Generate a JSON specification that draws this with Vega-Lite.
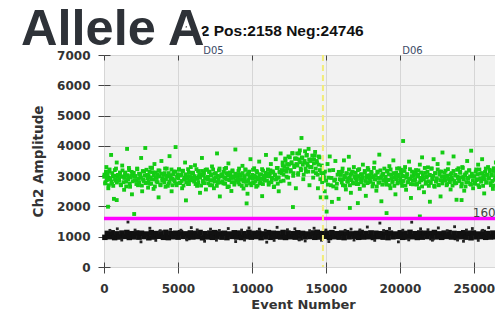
{
"$schema":"https://vega.github.io/schema/vega-lite/v6.json",
"width":398,"height":212,
"autosize":"none",
"padding":{"left":104,"top":55,"right":0,"bottom":54},
"background":"#ffffff",
"config":{
 "font":"DejaVu Sans",
 "axis":{"labelFont":"DejaVu Sans","labelFontWeight":"bold","labelFontSize":12,"labelColor":"#333333","titleFont":"DejaVu Sans","titleFontWeight":"bold","titleFontSize":13,"titleColor":"#333333","gridColor":"#d6d6d6","gridWidth":1,"tickColor":"#444444","tickWidth":1,"domain":false},
 "view":{"fill":"#f2f2f2","stroke":"#444444","strokeWidth":1}
},
"datasets":{
"neg":[
{"x":60,"y":980},{"x":225,"y":1110},{"x":390,"y":1000},{"x":555,"y":1130},{"x":720,"y":970},{"x":885,"y":1095},{"x":1050,"y":990},{"x":1215,"y":1120},{"x":1380,"y":1010},{"x":1545,"y":1140},{"x":1710,"y":975},{"x":1875,"y":1100},{"x":2040,"y":995},{"x":2205,"y":1125},{"x":2370,"y":985},{"x":2535,"y":1115},{"x":2700,"y":1005},{"x":2865,"y":1090},{"x":3030,"y":965},{"x":3195,"y":1135},{"x":3360,"y":990},{"x":3525,"y":1105},{"x":3690,"y":1015},{"x":3855,"y":1120},{"x":4020,"y":980},{"x":4185,"y":1145},{"x":4350,"y":970},{"x":4515,"y":1100},{"x":4680,"y":1000},{"x":4845,"y":1115},{"x":5010,"y":985},{"x":5175,"y":1130},{"x":5340,"y":1010},{"x":5505,"y":1095},{"x":5670,"y":975},{"x":5835,"y":1125},{"x":6000,"y":990},{"x":6165,"y":1110},{"x":6330,"y":1005},{"x":6495,"y":1140},{"x":6660,"y":965},{"x":6825,"y":1100},{"x":6990,"y":995},{"x":7155,"y":1120},{"x":7320,"y":980},{"x":7485,"y":1135},{"x":7650,"y":1000},{"x":7815,"y":1105},{"x":7980,"y":985},{"x":8145,"y":1115},{"x":8310,"y":970},{"x":8475,"y":1090},{"x":8640,"y":1010},{"x":8805,"y":1130},{"x":8970,"y":990},{"x":9135,"y":1120},{"x":9300,"y":975},{"x":9465,"y":1100},{"x":9630,"y":1000},{"x":9795,"y":1145},{"x":9960,"y":985},{"x":10125,"y":1110},{"x":10290,"y":1005},{"x":10455,"y":1125},{"x":10620,"y":970},{"x":10785,"y":1095},{"x":10950,"y":995},{"x":11115,"y":1135},{"x":11280,"y":980},{"x":11445,"y":1115},{"x":11610,"y":1010},{"x":11775,"y":1105},{"x":11940,"y":990},{"x":12105,"y":1140},{"x":12270,"y":975},{"x":12435,"y":1120},{"x":12600,"y":1000},{"x":12765,"y":1100},{"x":12930,"y":985},{"x":13095,"y":1130},{"x":13260,"y":965},{"x":13425,"y":1110},{"x":13590,"y":995},{"x":13755,"y":1090},{"x":13920,"y":1005},{"x":14085,"y":1125},{"x":14250,"y":980},{"x":14415,"y":1145},{"x":14580,"y":990},{"x":14745,"y":1105},{"x":14910,"y":1015},{"x":15075,"y":1115},{"x":15240,"y":975},{"x":15405,"y":1135},{"x":15570,"y":1000},{"x":15735,"y":1100},{"x":15900,"y":985},{"x":16065,"y":1120},{"x":16230,"y":970},{"x":16395,"y":1130},{"x":16560,"y":995},{"x":16725,"y":1095},{"x":16890,"y":1010},{"x":17055,"y":1110},{"x":17220,"y":980},{"x":17385,"y":1140},{"x":17550,"y":990},{"x":17715,"y":1105},{"x":17880,"y":1000},{"x":18045,"y":1125},{"x":18210,"y":975},{"x":18375,"y":1115},{"x":18540,"y":1005},{"x":18705,"y":1100},{"x":18870,"y":985},{"x":19035,"y":1135},{"x":19200,"y":970},{"x":19365,"y":1120},{"x":19530,"y":995},{"x":19695,"y":1090},{"x":19860,"y":1010},{"x":20025,"y":1130},{"x":20190,"y":980},{"x":20355,"y":1110},{"x":20520,"y":990},{"x":20685,"y":1145},{"x":20850,"y":1000},{"x":21015,"y":1100},{"x":21180,"y":975},{"x":21345,"y":1125},{"x":21510,"y":985},{"x":21675,"y":1115},{"x":21840,"y":1005},{"x":22005,"y":1105},{"x":22170,"y":970},{"x":22335,"y":1140},{"x":22500,"y":995},{"x":22665,"y":1095},{"x":22830,"y":980},{"x":22995,"y":1120},{"x":23160,"y":1010},{"x":23325,"y":1135},{"x":23490,"y":990},{"x":23655,"y":1110},{"x":23820,"y":975},{"x":23985,"y":1100},{"x":24150,"y":1000},{"x":24315,"y":1130},{"x":24480,"y":985},{"x":24645,"y":1115},{"x":24810,"y":965},{"x":24975,"y":1125},{"x":25140,"y":995},{"x":25305,"y":1090},{"x":25470,"y":1005},{"x":25635,"y":1140},{"x":25800,"y":980},{"x":25965,"y":1105},{"x":26130,"y":990},{"x":26295,"y":1120},{"x":26460,"y":1000},{"x":26625,"y":1130},{"x":26790,"y":975},{"x":26880,"y":1110}
],
"negOut":[
{"x":1620,"y":1485},{"x":18650,"y":1450},{"x":20800,"y":1480},{"x":900,"y":1260},{"x":3100,"y":1280},{"x":4500,"y":1240},{"x":5900,"y":1300},{"x":7200,"y":1250},{"x":8400,"y":1270},{"x":9800,"y":1290},{"x":10500,"y":1250},{"x":11700,"y":1310},{"x":12900,"y":1260},{"x":14200,"y":1280},{"x":15600,"y":1300},{"x":16700,"y":1250},{"x":17800,"y":1320},{"x":19300,"y":1270},{"x":21400,"y":1260},{"x":22600,"y":1290},{"x":23700,"y":1330},{"x":24900,"y":1270},{"x":26000,"y":1300},{"x":2500,"y":830},{"x":6800,"y":850},{"x":11000,"y":820},{"x":15200,"y":840},{"x":19900,"y":830},{"x":24300,"y":850},{"x":13600,"y":860},{"x":8900,"y":840},
{"x":400,"y":1210},{"x":2100,"y":1220},{"x":3800,"y":1200},{"x":5200,"y":1215},{"x":6300,"y":1225},{"x":7800,"y":1205},{"x":9300,"y":1220},{"x":10900,"y":1210},{"x":12400,"y":1230},{"x":13900,"y":1200},{"x":15000,"y":1220},{"x":16300,"y":1210},{"x":17300,"y":1225},{"x":18900,"y":1205},{"x":20200,"y":1215},{"x":21900,"y":1230},{"x":23200,"y":1200},{"x":24500,"y":1220},{"x":25600,"y":1210},{"x":26600,"y":1225},
{"x":1200,"y":890},{"x":3500,"y":880},{"x":5600,"y":895},{"x":7600,"y":885},{"x":9500,"y":890},{"x":11500,"y":880},{"x":13200,"y":895},{"x":14700,"y":885},{"x":16900,"y":890},{"x":18300,"y":880},{"x":20600,"y":895},{"x":22200,"y":885},{"x":23900,"y":890},{"x":25300,"y":880}
],
"pos":[
{"x":30,"y":3050},{"x":100,"y":2800},{"x":160,"y":3300},{"x":220,"y":2950},{"x":290,"y":2600},{"x":350,"y":3150},{"x":410,"y":2900},{"x":480,"y":3700},{"x":540,"y":2750},{"x":600,"y":3000},{"x":670,"y":2250},{"x":730,"y":3200},{"x":800,"y":2850},{"x":860,"y":3450},{"x":940,"y":2980},
{"x":1020,"y":2900},{"x":1080,"y":3120},{"x":1150,"y":2700},{"x":1230,"y":3350},{"x":1290,"y":2980},{"x":1360,"y":2550},{"x":1420,"y":3060},{"x":1500,"y":2820},{"x":1560,"y":3900},{"x":1630,"y":2940},{"x":1700,"y":3200},{"x":1760,"y":2650},{"x":1830,"y":3010},{"x":1890,"y":2400},{"x":1960,"y":3100},
{"x":2040,"y":1750},{"x":2090,"y":3000},{"x":2170,"y":2860},{"x":2240,"y":3250},{"x":2300,"y":2700},{"x":2370,"y":3080},{"x":2450,"y":2950},{"x":2510,"y":3600},{"x":2580,"y":2500},{"x":2640,"y":2890},{"x":2710,"y":3150},{"x":2790,"y":3930},{"x":2850,"y":2780},{"x":2920,"y":3040},{"x":2980,"y":2620},
{"x":3010,"y":3020},{"x":3080,"y":2750},{"x":3140,"y":3280},{"x":3210,"y":2900},{"x":3280,"y":3130},{"x":3350,"y":2580},{"x":3410,"y":3400},{"x":3490,"y":2960},{"x":3550,"y":2820},{"x":3620,"y":3050},{"x":3690,"y":2300},{"x":3750,"y":3180},{"x":3820,"y":2700},{"x":3880,"y":3500},{"x":3950,"y":2930},
{"x":4030,"y":2880},{"x":4100,"y":3100},{"x":4160,"y":2650},{"x":4240,"y":3250},{"x":4300,"y":2990},{"x":4370,"y":2760},{"x":4430,"y":3660},{"x":4510,"y":3030},{"x":4570,"y":2500},{"x":4640,"y":2910},{"x":4710,"y":3150},{"x":4770,"y":2830},{"x":4840,"y":3960},{"x":4910,"y":2700},{"x":4970,"y":3060},
{"x":5010,"y":2970},{"x":5070,"y":3230},{"x":5140,"y":2780},{"x":5210,"y":3050},{"x":5280,"y":2600},{"x":5340,"y":3180},{"x":5410,"y":2890},{"x":5480,"y":3450},{"x":5540,"y":2200},{"x":5610,"y":3000},{"x":5680,"y":2740},{"x":5740,"y":3120},{"x":5810,"y":2860},{"x":5870,"y":3300},{"x":5940,"y":2950},
{"x":6020,"y":3080},{"x":6090,"y":2820},{"x":6150,"y":3360},{"x":6230,"y":2940},{"x":6290,"y":2680},{"x":6360,"y":3170},{"x":6420,"y":2990},{"x":6490,"y":2450},{"x":6560,"y":3040},{"x":6620,"y":3600},{"x":6700,"y":2770},{"x":6760,"y":3110},{"x":6830,"y":2910},{"x":6890,"y":2560},{"x":6960,"y":3220},
{"x":7040,"y":2900},{"x":7100,"y":3140},{"x":7170,"y":2700},{"x":7230,"y":3020},{"x":7300,"y":3320},{"x":7370,"y":2850},{"x":7430,"y":2600},{"x":7500,"y":3080},{"x":7570,"y":2960},{"x":7640,"y":3750},{"x":7700,"y":2790},{"x":7770,"y":3190},{"x":7830,"y":2330},{"x":7900,"y":2990},{"x":7960,"y":3060},
{"x":8010,"y":3010},{"x":8080,"y":2760},{"x":8150,"y":3240},{"x":8210,"y":2920},{"x":8280,"y":3100},{"x":8350,"y":2640},{"x":8410,"y":3420},{"x":8480,"y":2870},{"x":8550,"y":3040},{"x":8610,"y":2510},{"x":8680,"y":3160},{"x":8750,"y":2940},{"x":8810,"y":2800},{"x":8880,"y":3880},{"x":8950,"y":2980},
{"x":9030,"y":2950},{"x":9090,"y":3170},{"x":9160,"y":2730},{"x":9230,"y":3060},{"x":9290,"y":2880},{"x":9360,"y":3340},{"x":9430,"y":2590},{"x":9500,"y":3000},{"x":9560,"y":3210},{"x":9630,"y":2820},{"x":9700,"y":2420},{"x":9760,"y":3090},{"x":9830,"y":2960},{"x":9900,"y":3560},{"x":9960,"y":2700},
{"x":10020,"y":3040},{"x":10080,"y":2800},{"x":10150,"y":3260},{"x":10220,"y":2970},{"x":10290,"y":2650},{"x":10350,"y":3130},{"x":10420,"y":2900},{"x":10490,"y":3480},{"x":10550,"y":2760},{"x":10620,"y":3050},{"x":10690,"y":2340},{"x":10750,"y":3180},{"x":10820,"y":2880},{"x":10890,"y":3020},{"x":10950,"y":3700},
{"x":11010,"y":3000},{"x":11080,"y":3220},{"x":11140,"y":2780},{"x":11210,"y":3090},{"x":11280,"y":3400},{"x":11340,"y":2880},{"x":11410,"y":3160},{"x":11480,"y":2640},{"x":11540,"y":3050},{"x":11610,"y":3560},{"x":11680,"y":2930},{"x":11740,"y":3270},{"x":11810,"y":2500},{"x":11870,"y":3120},{"x":11940,"y":3750},
{"x":12020,"y":3100},{"x":12080,"y":3350},{"x":12140,"y":2850},{"x":12210,"y":3200},{"x":12270,"y":3520},{"x":12340,"y":2980},{"x":12400,"y":3260},{"x":12470,"y":3650},{"x":12530,"y":2750},{"x":12600,"y":3150},{"x":12660,"y":3420},{"x":12730,"y":3760},{"x":12790,"y":3010},{"x":12860,"y":3300},{"x":12920,"y":3580},{"x":12970,"y":2600},
{"x":13010,"y":3400},{"x":13060,"y":3750},{"x":13120,"y":3050},{"x":13180,"y":3550},{"x":13240,"y":3850},{"x":13300,"y":3250},{"x":13350,"y":4260},{"x":13410,"y":3600},{"x":13470,"y":2900},{"x":13530,"y":3450},{"x":13590,"y":3820},{"x":13650,"y":3150},{"x":13710,"y":3700},{"x":13770,"y":3350},{"x":13830,"y":3900},{"x":13890,"y":2700},{"x":13950,"y":3500},
{"x":14020,"y":3300},{"x":14080,"y":3680},{"x":14140,"y":2950},{"x":14200,"y":3550},{"x":14270,"y":3800},{"x":14330,"y":3100},{"x":14390,"y":3450},{"x":14460,"y":2600},{"x":14520,"y":3650},{"x":14590,"y":3200},{"x":14650,"y":2300},{"x":14720,"y":3350},{"x":14780,"y":2850},{"x":14850,"y":3050},{"x":14920,"y":2500},
{"x":15030,"y":2300},{"x":15110,"y":3400},{"x":15180,"y":2950},{"x":15260,"y":3650},{"x":15340,"y":2700},{"x":15410,"y":2150},{"x":15490,"y":3200},{"x":15560,"y":2850},{"x":15640,"y":3500},{"x":15710,"y":2600},{"x":15790,"y":3050},{"x":15860,"y":2250},{"x":15940,"y":2900},
{"x":16020,"y":2880},{"x":16090,"y":3150},{"x":16150,"y":2700},{"x":16220,"y":3520},{"x":16290,"y":2960},{"x":16350,"y":2560},{"x":16420,"y":3080},{"x":16490,"y":2820},{"x":16550,"y":3640},{"x":16620,"y":2940},{"x":16690,"y":2450},{"x":16750,"y":3100},{"x":16820,"y":2780},{"x":16890,"y":3300},{"x":16950,"y":2990},
{"x":17030,"y":2920},{"x":17090,"y":2740},{"x":17160,"y":3200},{"x":17230,"y":2990},{"x":17290,"y":2580},{"x":17360,"y":3060},{"x":17430,"y":2850},{"x":17500,"y":3380},{"x":17560,"y":2700},{"x":17630,"y":3120},{"x":17700,"y":2350},{"x":17760,"y":2960},{"x":17830,"y":3270},{"x":17900,"y":2800},{"x":17960,"y":3030},
{"x":18010,"y":2830},{"x":18080,"y":3090},{"x":18150,"y":2660},{"x":18210,"y":3000},{"x":18280,"y":3450},{"x":18350,"y":2900},{"x":18410,"y":2520},{"x":18480,"y":3150},{"x":18550,"y":2780},{"x":18610,"y":3710},{"x":18680,"y":2940},{"x":18750,"y":2170},{"x":18810,"y":3050},{"x":18880,"y":2870},{"x":18950,"y":3250},
{"x":19030,"y":2960},{"x":19090,"y":2720},{"x":19160,"y":3180},{"x":19230,"y":2880},{"x":19290,"y":3330},{"x":19360,"y":2600},{"x":19430,"y":3040},{"x":19500,"y":2810},{"x":19560,"y":3520},{"x":19630,"y":2950},{"x":19700,"y":2400},{"x":19760,"y":3110},{"x":19830,"y":2760},{"x":19900,"y":3000},{"x":19960,"y":3260},
{"x":20020,"y":2850},{"x":20080,"y":3120},{"x":20150,"y":2680},{"x":20220,"y":4160},{"x":20270,"y":2990},{"x":20350,"y":3300},{"x":20420,"y":2550},{"x":20490,"y":3060},{"x":20550,"y":2800},{"x":20620,"y":3480},{"x":20690,"y":2920},{"x":20750,"y":2280},{"x":20820,"y":3150},{"x":20890,"y":2730},{"x":20950,"y":3010},
{"x":21030,"y":2900},{"x":21090,"y":3200},{"x":21160,"y":2740},{"x":21230,"y":3050},{"x":21290,"y":2600},{"x":21350,"y":3380},{"x":21430,"y":2860},{"x":21500,"y":3620},{"x":21560,"y":2960},{"x":21630,"y":2470},{"x":21700,"y":3110},{"x":21760,"y":2800},{"x":21830,"y":3000},{"x":21900,"y":3290},{"x":21960,"y":2680},
{"x":22010,"y":3030},{"x":22080,"y":2780},{"x":22150,"y":3250},{"x":22210,"y":2940},{"x":22280,"y":3560},{"x":22350,"y":2650},{"x":22410,"y":3090},{"x":22480,"y":2870},{"x":22550,"y":3400},{"x":22610,"y":2720},{"x":22680,"y":3150},{"x":22750,"y":2330},{"x":22810,"y":2990},{"x":22880,"y":3780},{"x":22950,"y":2850},
{"x":23030,"y":2950},{"x":23090,"y":3180},{"x":23160,"y":2700},{"x":23230,"y":3020},{"x":23290,"y":3420},{"x":23360,"y":2830},{"x":23430,"y":2560},{"x":23500,"y":3100},{"x":23560,"y":2890},{"x":23630,"y":3650},{"x":23700,"y":2760},{"x":23760,"y":3040},{"x":23830,"y":2220},{"x":23900,"y":2980},{"x":23960,"y":3260},
{"x":24020,"y":2880},{"x":24080,"y":3110},{"x":24150,"y":2660},{"x":24220,"y":3300},{"x":24290,"y":2970},{"x":24350,"y":2520},{"x":24420,"y":3060},{"x":24490,"y":2800},{"x":24550,"y":3500},{"x":24620,"y":2930},{"x":24690,"y":3190},{"x":24750,"y":2740},{"x":24820,"y":3840},{"x":24890,"y":2990},{"x":24950,"y":2600},
{"x":25030,"y":3000},{"x":25090,"y":2750},{"x":25160,"y":3220},{"x":25230,"y":2900},{"x":25290,"y":3380},{"x":25360,"y":2640},{"x":25430,"y":3080},{"x":25500,"y":2850},{"x":25560,"y":3560},{"x":25630,"y":2960},{"x":25700,"y":2430},{"x":25760,"y":3140},{"x":25830,"y":2790},{"x":25900,"y":3050},{"x":25960,"y":3300},
{"x":26020,"y":2920},{"x":26080,"y":3160},{"x":26150,"y":2700},{"x":26220,"y":3040},{"x":26290,"y":2580},{"x":26350,"y":3260},{"x":26420,"y":2880},{"x":26490,"y":3450},{"x":26550,"y":2990},{"x":26620,"y":2760},{"x":26690,"y":3100},{"x":26750,"y":2850},{"x":26820,"y":3620},{"x":26890,"y":2950},
{"x":15050,"y":1830},{"x":16620,"y":1950},{"x":19100,"y":1780},{"x":21350,"y":1670},{"x":17160,"y":2110},{"x":22030,"y":2155},{"x":24170,"y":2210},{"x":9640,"y":2100},{"x":12770,"y":1980},{"x":270,"y":1990},{"x":860,"y":2210},
{"x":15,"y":2980},{"x":75,"y":2760},{"x":130,"y":3150},{"x":190,"y":2870},{"x":250,"y":3060},{"x":315,"y":2700},{"x":375,"y":3220},{"x":440,"y":2930},{"x":500,"y":2820},{"x":560,"y":3100},{"x":625,"y":2680},{"x":685,"y":3010},{"x":745,"y":2900},{"x":810,"y":3250},{"x":870,"y":2790},{"x":935,"y":3040},
{"x":1015,"y":2850},{"x":1075,"y":3080},{"x":1130,"y":2720},{"x":1190,"y":2990},{"x":1250,"y":3190},{"x":1315,"y":2800},{"x":1375,"y":2940},{"x":1440,"y":3120},{"x":1500,"y":2660},{"x":1560,"y":3030},{"x":1625,"y":2890},{"x":1685,"y":3270},{"x":1745,"y":2750},{"x":1810,"y":2960},{"x":1870,"y":3140},{"x":1935,"y":2830},
{"x":2015,"y":3110},{"x":2075,"y":2870},{"x":2130,"y":3000},{"x":2190,"y":2740},{"x":2250,"y":3230},{"x":2315,"y":2910},{"x":2375,"y":2800},{"x":2440,"y":3060},{"x":2500,"y":2950},{"x":2560,"y":2690},{"x":2625,"y":3170},{"x":2685,"y":2840},{"x":2745,"y":3020},{"x":2810,"y":2770},{"x":2870,"y":3210},{"x":2935,"y":2930},
{"x":3015,"y":2830},{"x":3075,"y":3140},{"x":3130,"y":2960},{"x":3190,"y":2750},{"x":3250,"y":3270},{"x":3315,"y":2890},{"x":3375,"y":3030},{"x":3440,"y":2660},{"x":3500,"y":3120},{"x":3560,"y":2940},{"x":3625,"y":2800},{"x":3685,"y":3190},{"x":3745,"y":2990},{"x":3810,"y":2720},{"x":3870,"y":3080},{"x":3935,"y":2850},
{"x":4015,"y":3040},{"x":4075,"y":2790},{"x":4130,"y":3250},{"x":4190,"y":2900},{"x":4250,"y":3010},{"x":4315,"y":2680},{"x":4375,"y":3100},{"x":4440,"y":2820},{"x":4500,"y":2930},{"x":4560,"y":3220},{"x":4625,"y":2700},{"x":4685,"y":3060},{"x":4745,"y":2870},{"x":4810,"y":3150},{"x":4870,"y":2760},{"x":4935,"y":2980},
{"x":5015,"y":2930},{"x":5075,"y":3210},{"x":5130,"y":2770},{"x":5190,"y":3020},{"x":5250,"y":2840},{"x":5315,"y":3170},{"x":5375,"y":2690},{"x":5440,"y":2950},{"x":5500,"y":3060},{"x":5560,"y":2800},{"x":5625,"y":2910},{"x":5685,"y":3230},{"x":5745,"y":2740},{"x":5810,"y":3000},{"x":5870,"y":2870},{"x":5935,"y":3110},
{"x":6015,"y":3110},{"x":6075,"y":2870},{"x":6130,"y":3000},{"x":6190,"y":2740},{"x":6250,"y":3230},{"x":6315,"y":2910},{"x":6375,"y":2800},{"x":6440,"y":3060},{"x":6500,"y":2950},{"x":6560,"y":2690},{"x":6625,"y":3170},{"x":6685,"y":2840},{"x":6745,"y":3020},{"x":6810,"y":2770},{"x":6870,"y":3210},{"x":6935,"y":2930},
{"x":7015,"y":2980},{"x":7075,"y":2760},{"x":7130,"y":3150},{"x":7190,"y":2870},{"x":7250,"y":3060},{"x":7315,"y":2700},{"x":7375,"y":3220},{"x":7440,"y":2930},{"x":7500,"y":2820},{"x":7560,"y":3100},{"x":7625,"y":2680},{"x":7685,"y":3010},{"x":7745,"y":2900},{"x":7810,"y":3250},{"x":7870,"y":2790},{"x":7935,"y":3040},
{"x":8015,"y":2830},{"x":8075,"y":3140},{"x":8130,"y":2960},{"x":8190,"y":2750},{"x":8250,"y":3270},{"x":8315,"y":2890},{"x":8375,"y":3030},{"x":8440,"y":2660},{"x":8500,"y":3120},{"x":8560,"y":2940},{"x":8625,"y":2800},{"x":8685,"y":3190},{"x":8745,"y":2990},{"x":8810,"y":2720},{"x":8870,"y":3080},{"x":8935,"y":2850},
{"x":9015,"y":3040},{"x":9075,"y":2790},{"x":9130,"y":3250},{"x":9190,"y":2900},{"x":9250,"y":3010},{"x":9315,"y":2680},{"x":9375,"y":3100},{"x":9440,"y":2820},{"x":9500,"y":2930},{"x":9560,"y":3220},{"x":9625,"y":2700},{"x":9685,"y":3060},{"x":9745,"y":2870},{"x":9810,"y":3150},{"x":9870,"y":2760},{"x":9935,"y":2980},
{"x":10015,"y":2930},{"x":10075,"y":3210},{"x":10130,"y":2770},{"x":10190,"y":3020},{"x":10250,"y":2840},{"x":10315,"y":3170},{"x":10375,"y":2690},{"x":10440,"y":2950},{"x":10500,"y":3060},{"x":10560,"y":2800},{"x":10625,"y":2910},{"x":10685,"y":3230},{"x":10745,"y":2740},{"x":10810,"y":3000},{"x":10870,"y":2870},{"x":10935,"y":3110},
{"x":11015,"y":2850},{"x":11075,"y":3080},{"x":11130,"y":2720},{"x":11190,"y":2990},{"x":11250,"y":3190},{"x":11315,"y":2800},{"x":11375,"y":2940},{"x":11440,"y":3120},{"x":11500,"y":2660},{"x":11560,"y":3030},{"x":11625,"y":2890},{"x":11685,"y":3270},{"x":11745,"y":2750},{"x":11810,"y":2960},{"x":11870,"y":3140},{"x":11935,"y":2830},
{"x":12015,"y":3200},{"x":12075,"y":3450},{"x":12130,"y":3050},{"x":12190,"y":3320},{"x":12250,"y":3580},{"x":12315,"y":3150},{"x":12375,"y":3400},{"x":12440,"y":2950},{"x":12500,"y":3380},{"x":12560,"y":3620},{"x":12625,"y":3200},{"x":12685,"y":3460},{"x":12745,"y":3750},{"x":12810,"y":3100},{"x":12870,"y":3350},{"x":12935,"y":3580},
{"x":13015,"y":3580},{"x":13075,"y":3350},{"x":13130,"y":3100},{"x":13190,"y":3750},{"x":13250,"y":3460},{"x":13315,"y":3200},{"x":13375,"y":3620},{"x":13440,"y":3380},{"x":13500,"y":3050},{"x":13560,"y":3500},{"x":13625,"y":3250},{"x":13685,"y":3680},{"x":13745,"y":3420},{"x":13810,"y":3150},{"x":13870,"y":3550},{"x":13935,"y":3300},
{"x":14015,"y":3300},{"x":14075,"y":3550},{"x":14130,"y":3150},{"x":14190,"y":3420},{"x":14250,"y":3680},{"x":14315,"y":3250},{"x":14375,"y":3500},{"x":14440,"y":3050},{"x":14500,"y":3380},{"x":14560,"y":3620},{"x":14625,"y":2900},{"x":14685,"y":3100},{"x":14745,"y":2800},{"x":14810,"y":3000},{"x":14870,"y":2950},{"x":14935,"y":3150},
{"x":15015,"y":2850},{"x":15130,"y":2720},{"x":15250,"y":3190},{"x":15375,"y":2940},{"x":15500,"y":2660},{"x":15625,"y":2890},{"x":15745,"y":2750},{"x":15870,"y":3140},
{"x":16015,"y":3040},{"x":16075,"y":2790},{"x":16130,"y":3250},{"x":16190,"y":2900},{"x":16250,"y":3010},{"x":16315,"y":2680},{"x":16375,"y":3100},{"x":16440,"y":2820},{"x":16500,"y":2930},{"x":16560,"y":3220},{"x":16625,"y":2700},{"x":16685,"y":3060},{"x":16745,"y":2870},{"x":16810,"y":3150},{"x":16870,"y":2760},{"x":16935,"y":2980},
{"x":17015,"y":3110},{"x":17075,"y":2870},{"x":17130,"y":3000},{"x":17190,"y":2740},{"x":17250,"y":3230},{"x":17315,"y":2910},{"x":17375,"y":2800},{"x":17440,"y":3060},{"x":17500,"y":2950},{"x":17560,"y":2690},{"x":17625,"y":3170},{"x":17685,"y":2840},{"x":17745,"y":3020},{"x":17810,"y":2770},{"x":17870,"y":3210},{"x":17935,"y":2930},
{"x":18015,"y":2830},{"x":18075,"y":3140},{"x":18130,"y":2960},{"x":18190,"y":2750},{"x":18250,"y":3270},{"x":18315,"y":2890},{"x":18375,"y":3030},{"x":18440,"y":2660},{"x":18500,"y":3120},{"x":18560,"y":2940},{"x":18625,"y":2800},{"x":18685,"y":3190},{"x":18745,"y":2990},{"x":18810,"y":2720},{"x":18870,"y":3080},{"x":18935,"y":2850},
{"x":19015,"y":2980},{"x":19075,"y":2760},{"x":19130,"y":3150},{"x":19190,"y":2870},{"x":19250,"y":3060},{"x":19315,"y":2700},{"x":19375,"y":3220},{"x":19440,"y":2930},{"x":19500,"y":2820},{"x":19560,"y":3100},{"x":19625,"y":2680},{"x":19685,"y":3010},{"x":19745,"y":2900},{"x":19810,"y":3250},{"x":19870,"y":2790},{"x":19935,"y":3040},
{"x":20015,"y":2930},{"x":20075,"y":3210},{"x":20130,"y":2770},{"x":20190,"y":3020},{"x":20250,"y":2840},{"x":20315,"y":3170},{"x":20375,"y":2690},{"x":20440,"y":2950},{"x":20500,"y":3060},{"x":20560,"y":2800},{"x":20625,"y":2910},{"x":20685,"y":3230},{"x":20745,"y":2740},{"x":20810,"y":3000},{"x":20870,"y":2870},{"x":20935,"y":3110},
{"x":21015,"y":2850},{"x":21075,"y":3080},{"x":21130,"y":2720},{"x":21190,"y":2990},{"x":21250,"y":3190},{"x":21315,"y":2800},{"x":21375,"y":2940},{"x":21440,"y":3120},{"x":21500,"y":2660},{"x":21560,"y":3030},{"x":21625,"y":2890},{"x":21685,"y":3270},{"x":21745,"y":2750},{"x":21810,"y":2960},{"x":21870,"y":3140},{"x":21935,"y":2830},
{"x":22015,"y":3040},{"x":22075,"y":2790},{"x":22130,"y":3250},{"x":22190,"y":2900},{"x":22250,"y":3010},{"x":22315,"y":2680},{"x":22375,"y":3100},{"x":22440,"y":2820},{"x":22500,"y":2930},{"x":22560,"y":3220},{"x":22625,"y":2700},{"x":22685,"y":3060},{"x":22745,"y":2870},{"x":22810,"y":3150},{"x":22870,"y":2760},{"x":22935,"y":2980},
{"x":23015,"y":3110},{"x":23075,"y":2870},{"x":23130,"y":3000},{"x":23190,"y":2740},{"x":23250,"y":3230},{"x":23315,"y":2910},{"x":23375,"y":2800},{"x":23440,"y":3060},{"x":23500,"y":2950},{"x":23560,"y":2690},{"x":23625,"y":3170},{"x":23685,"y":2840},{"x":23745,"y":3020},{"x":23810,"y":2770},{"x":23870,"y":3210},{"x":23935,"y":2930},
{"x":24015,"y":2830},{"x":24075,"y":3140},{"x":24130,"y":2960},{"x":24190,"y":2750},{"x":24250,"y":3270},{"x":24315,"y":2890},{"x":24375,"y":3030},{"x":24440,"y":2660},{"x":24500,"y":3120},{"x":24560,"y":2940},{"x":24625,"y":2800},{"x":24685,"y":3190},{"x":24745,"y":2990},{"x":24810,"y":2720},{"x":24870,"y":3080},{"x":24935,"y":2850},
{"x":25015,"y":2980},{"x":25075,"y":2760},{"x":25130,"y":3150},{"x":25190,"y":2870},{"x":25250,"y":3060},{"x":25315,"y":2700},{"x":25375,"y":3220},{"x":25440,"y":2930},{"x":25500,"y":2820},{"x":25560,"y":3100},{"x":25625,"y":2680},{"x":25685,"y":3010},{"x":25745,"y":2900},{"x":25810,"y":3250},{"x":25870,"y":2790},{"x":25935,"y":3040},
{"x":26015,"y":2930},{"x":26075,"y":3210},{"x":26130,"y":2770},{"x":26190,"y":3020},{"x":26250,"y":2840},{"x":26315,"y":3170},{"x":26375,"y":2690},{"x":26440,"y":2950},{"x":26500,"y":3060},{"x":26560,"y":2800},{"x":26625,"y":2910},{"x":26685,"y":3230},{"x":26745,"y":2740},{"x":26810,"y":3000},{"x":26870,"y":2870}
],
"wells":[{"well":"D05","x":7400},{"well":"D06","x":20850}]
},
"resolve":{"axis":{"x":"independent","y":"independent"}},
"layer":[
{"data":{"name":"neg"},
 "mark":{"type":"square","size":30,"color":"#111111","opacity":1},
 "encoding":{
  "x":{"field":"x","type":"quantitative","scale":{"domain":[0,26904],"nice":false,"zero":false},
   "axis":{"orient":"bottom","values":[0,5000,10000,15000,20000,25000],"format":"d","grid":true,"tickSize":6,"labelPadding":10,"labelFlush":false,"title":"Event Number","titlePadding":4}},
  "y":{"field":"y","type":"quantitative","scale":{"domain":[0,7000],"nice":false,"zero":false},
   "axis":{"orient":"left","values":[0,1000,2000,3000,4000,5000,6000,7000],"format":"d","grid":true,"tickSize":6,"labelPadding":8,"labelFlush":false,"title":"Ch2 Amplitude","titleFontSize":13.5,"titlePadding":11}}
 }},
{"data":{"name":"negOut"},
 "mark":{"type":"square","size":8,"color":"#222222","opacity":1},
 "encoding":{
  "x":{"field":"x","type":"quantitative","axis":{"orient":"top","values":[0,5000,10000,15000,20000,25000],"grid":false,"tickSize":-5,"labels":false,"title":null}},
  "y":{"field":"y","type":"quantitative","axis":{"orient":"left","values":[0,1000,2000,3000,4000,5000,6000,7000],"grid":false,"tickSize":-6,"labels":false,"title":null}}
 }},
{"data":{"name":"pos"},
 "mark":{"type":"square","size":15,"color":"#14cc14","opacity":1},
 "encoding":{
  "x":{"field":"x","type":"quantitative","axis":{"orient":"bottom","values":[0,5000,10000,15000,20000,25000],"grid":false,"tickSize":-5,"labels":false,"title":null}},
  "y":{"field":"y","type":"quantitative","axis":null}
 }},
{"data":{"values":[{}]},
 "mark":{"type":"rule","color":"#ff00ff","strokeWidth":3.5},
 "encoding":{"y":{"datum":1600,"type":"quantitative","axis":null}}},
{"data":{"values":[{}]},
 "mark":{"type":"rule","color":"#f2ec7a","strokeWidth":2,"strokeDash":[6,4]},
 "encoding":{"x":{"datum":14800,"type":"quantitative","axis":null}}},
{"data":{"values":[{}]},
 "mark":{"type":"text","text":"1600","align":"left","baseline":"alphabetic","dy":-2,"font":"DejaVu Sans","fontSize":12,"color":"#444444"},
 "encoding":{"x":{"datum":24932,"type":"quantitative","axis":null},"y":{"datum":1600,"type":"quantitative","axis":null}}},
{"data":{"values":[{}]},
 "mark":{"type":"text","text":"Ch2 Pos:2158 Neg:24746","align":"left","baseline":"alphabetic","font":"Liberation Sans","fontWeight":"bold","fontSize":15.5,"color":"#111111"},
 "encoding":{"x":{"datum":5150,"type":"quantitative","axis":null},"y":{"datum":7611,"type":"quantitative","axis":null}}},
{"data":{"values":[{}]},
 "mark":{"type":"text","text":"Allele A","align":"left","baseline":"alphabetic","font":"Liberation Sans","fontWeight":"bold","fontSize":50.5,"color":"#ffffff","stroke":"#ffffff","strokeWidth":6,"strokeJoin":"round"},
 "encoding":{"x":{"datum":-5608,"type":"quantitative","axis":null},"y":{"datum":7314,"type":"quantitative","axis":null}}},
{"data":{"values":[{}]},
 "mark":{"type":"text","text":"Allele A","align":"left","baseline":"alphabetic","font":"Liberation Sans","fontWeight":"bold","fontSize":50.5,"color":"#2e3238"},
 "encoding":{"x":{"datum":-5608,"type":"quantitative","axis":null},"y":{"datum":7314,"type":"quantitative","axis":null}}},
{"data":{"name":"wells"},
 "mark":{"type":"text","align":"center","baseline":"alphabetic","dy":-1.5,"font":"DejaVu Sans","fontSize":10,"color":"#3c4a66"},
 "encoding":{"x":{"field":"x","type":"quantitative","axis":null},"y":{"datum":7000,"type":"quantitative","axis":null},"text":{"field":"well"}}}
]
}
